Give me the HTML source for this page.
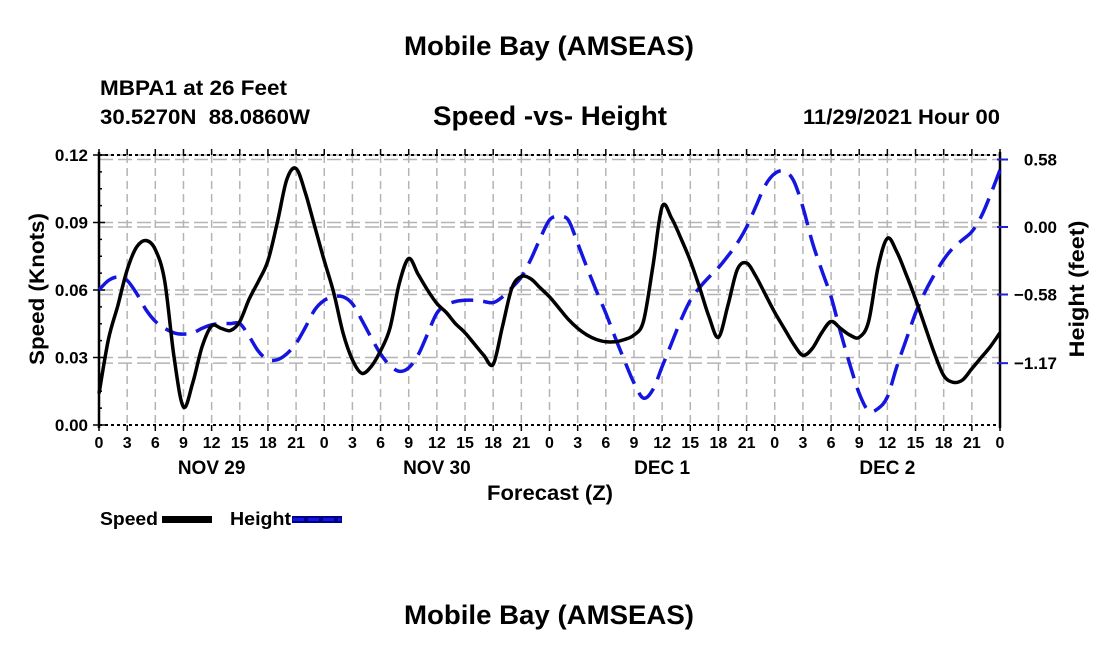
<!DOCTYPE html>
<html><head><meta charset="utf-8"><style>
body{margin:0;background:#fff;}
svg text{font-family:"Liberation Sans",Arial,sans-serif;font-weight:bold;fill:#000;}
</style></head><body>
<svg id="chart" width="1100" height="650" xmlns="http://www.w3.org/2000/svg">
<text x="549" y="55" font-size="27" text-anchor="middle" textLength="290" lengthAdjust="spacingAndGlyphs">Mobile Bay (AMSEAS)</text>
<text x="100" y="95" font-size="21" textLength="187" lengthAdjust="spacingAndGlyphs">MBPA1 at 26 Feet</text>
<text x="100" y="124" font-size="21" xml:space="preserve" textLength="210" lengthAdjust="spacingAndGlyphs">30.5270N  88.0860W</text>
<text x="550" y="125" font-size="27" text-anchor="middle" textLength="234" lengthAdjust="spacingAndGlyphs">Speed -vs- Height</text>
<text x="1000" y="124" font-size="21" text-anchor="end" textLength="197" lengthAdjust="spacingAndGlyphs">11/29/2021 Hour 00</text>
<g id="grid"></g>
<g id="axes"></g>
<g id="series"></g>
<text transform="translate(44,289) rotate(-90)" font-size="21" text-anchor="middle" textLength="152" lengthAdjust="spacingAndGlyphs">Speed (Knots)</text>
<text transform="translate(1084,289) rotate(-90)" font-size="21" text-anchor="middle" textLength="137" lengthAdjust="spacingAndGlyphs">Height (feet)</text>
<text x="550" y="500" font-size="21" text-anchor="middle" textLength="126" lengthAdjust="spacingAndGlyphs">Forecast (Z)</text>
<g>
<text x="100" y="525" font-size="18" textLength="58" lengthAdjust="spacingAndGlyphs">Speed</text>
<rect x="162" y="516" width="50" height="7" fill="#000"/>
<text x="230" y="525" font-size="18" textLength="61" lengthAdjust="spacingAndGlyphs">Height</text>
<rect x="292" y="516" width="50" height="7" fill="#00008b"/>
<line x1="293" y1="519.5" x2="341" y2="519.5" stroke="#1515e0" stroke-width="3" stroke-dasharray="11,4"/>
</g>
<text x="549" y="624" font-size="27" text-anchor="middle" textLength="290" lengthAdjust="spacingAndGlyphs">Mobile Bay (AMSEAS)</text>
</svg>
<script>
const hours = [];
for (let i = 0; i <= 96; i++) hours.push(i);
const speedValues = [0.014,0.038,0.053,0.069,0.079,0.082,0.078,0.064,0.030,0.008,0.019,0.035,0.044,0.043,0.042,0.046,0.056,0.064,0.073,0.090,0.109,0.114,0.103,0.088,0.073,0.059,0.041,0.029,0.023,0.026,0.033,0.043,0.063,0.074,0.067,0.060,0.054,0.050,0.045,0.041,0.036,0.031,0.027,0.044,0.061,0.066,0.065,0.061,0.057,0.052,0.047,0.043,0.040,0.038,0.037,0.037,0.038,0.040,0.046,0.070,0.097,0.092,0.083,0.073,0.061,0.048,0.039,0.053,0.069,0.072,0.066,0.058,0.050,0.043,0.036,0.031,0.034,0.041,0.046,0.043,0.040,0.039,0.046,0.070,0.083,0.077,0.067,0.056,0.044,0.032,0.022,0.019,0.020,0.025,0.030,0.035,0.041];
const heightValues = [-0.54,-0.46,-0.43,-0.46,-0.57,-0.71,-0.81,-0.87,-0.91,-0.92,-0.91,-0.87,-0.84,-0.83,-0.83,-0.83,-0.94,-1.07,-1.14,-1.14,-1.09,-1.00,-0.86,-0.71,-0.63,-0.60,-0.60,-0.66,-0.80,-0.95,-1.09,-1.19,-1.24,-1.21,-1.10,-0.92,-0.74,-0.67,-0.64,-0.63,-0.63,-0.64,-0.65,-0.60,-0.52,-0.43,-0.28,-0.10,0.06,0.09,0.06,-0.14,-0.35,-0.55,-0.74,-0.95,-1.15,-1.34,-1.47,-1.40,-1.20,-1.00,-0.80,-0.63,-0.52,-0.43,-0.35,-0.25,-0.14,0.00,0.18,0.36,0.46,0.48,0.40,0.17,-0.13,-0.37,-0.60,-0.90,-1.18,-1.43,-1.58,-1.56,-1.46,-1.20,-0.97,-0.74,-0.56,-0.41,-0.28,-0.18,-0.11,-0.04,0.09,0.28,0.49];
const speedTicks = [0.00,0.03,0.06,0.09,0.12];
const speedTickLabels = ["0.00","0.03","0.06","0.09","0.12"];
const heightTicks = [0.58,0.00,-0.58,-1.17];
const heightTickLabels = ["0.58","0.00","\u22120.58","\u22121.17"];
const dayLabels = ["NOV 29","NOV 30","DEC 1","DEC 2"];

const X0=99,X1=1000,YT=155,YB=425;
const xS = h => X0 + h*(X1-X0)/96;
const yS = v => YB - v*(YB-YT)/0.12;
const yH = v => 227 - v*(67.5/0.58);
const NS='http://www.w3.org/2000/svg';
function mk(parent, tag, attrs){const e=document.createElementNS(NS,tag);for(const k in attrs)e.setAttribute(k,attrs[k]);parent.appendChild(e);return e;}
const grid=document.getElementById('grid'),axes=document.getElementById('axes'),series=document.getElementById('series');

for(let h=3;h<96;h+=3){
  const l=mk(grid,'line',{x1:xS(h),x2:xS(h),y1:YT,y2:YB,stroke:'#b4b4b4','stroke-width':1.5,'stroke-dasharray':'8,5'});
  
  
}
speedTicks.forEach(v=>{ if(v===0) return;
  const l=mk(grid,'line',{x1:X0,x2:X1,y1:yS(v),y2:yS(v),stroke:'#b4b4b4','stroke-width':1.5,'stroke-dasharray':'14,5'});
  
  
});
heightTicks.forEach(v=>{
  const l=mk(grid,'line',{x1:X0,x2:X1,y1:yH(v),y2:yH(v),stroke:'#b4b4b4','stroke-width':1.5,'stroke-dasharray':'14,5'});
  
  
});
[[X0,YT,X1,YT],[X0,YB,X1,YB]].forEach(c=>{
  const l=mk(axes,'line',{x1:c[0],y1:c[1],x2:c[2],y2:c[3],stroke:'#000','stroke-width':2,'stroke-dasharray':'3,3'});
  
  
});
const la=mk(axes,'line',{x1:X0,y1:YT-3,x2:X0,y2:YB+3,stroke:'#000','stroke-width':2.5});


const ra=mk(axes,'line',{x1:X1,y1:YT-3,x2:X1,y2:YB+3,stroke:'#000','stroke-width':2.5});


for(let v=0;v<=0.1201;v+=0.0075){
  const big=Math.abs(v/0.03-Math.round(v/0.03))<1e-6;
  const t=mk(axes,'line',{x1:X0-(big?6:0),x2:X0+(big?6:3),y1:yS(v),y2:yS(v),stroke:'#000','stroke-width':1.5});
  
  
}
speedTicks.forEach((v,i)=>{
  const t=mk(axes,'text',{x:X0-11,y:yS(v)+6,'font-size':17,'text-anchor':'end'});
  t.textContent=speedTickLabels[i];
  
  
});
heightTicks.forEach((v,i)=>{
  const k=mk(axes,'line',{x1:X1-3,x2:X1+8,y1:yH(v),y2:yH(v),stroke:'#2020d0','stroke-width':2});
  
  
  const t=mk(axes,'text',{x:X1+57,y:yH(v)+6,'font-size':17,'text-anchor':'end'});
  t.textContent=heightTickLabels[i];
  
  
});
for(let h=0;h<=96;h+=3){
  const a=mk(axes,'line',{x1:xS(h),x2:xS(h),y1:YT-6,y2:YT,stroke:'#000','stroke-width':1.5});
  
  
  const b=mk(axes,'line',{x1:xS(h),x2:xS(h),y1:YB,y2:YB+6,stroke:'#000','stroke-width':1.5});
  
  
  const t=mk(axes,'text',{x:xS(h),y:448,'font-size':16,'text-anchor':'middle'});
  t.textContent=String(h%24);
  
  
}
dayLabels.forEach((d,i)=>{
  const t=mk(axes,'text',{x:xS(i*24+12),y:474,'font-size':19,'text-anchor':'middle'});
  t.textContent=d;
  
  
});
function smooth(pts){
  let d='M'+pts[0][0].toFixed(1)+','+pts[0][1].toFixed(1);
  for(let i=0;i<pts.length-1;i++){
    const p0=pts[Math.max(0,i-1)],p1=pts[i],p2=pts[i+1],p3=pts[Math.min(pts.length-1,i+2)];
    const c1=[p1[0]+(p2[0]-p0[0])/6,p1[1]+(p2[1]-p0[1])/6],c2=[p2[0]-(p3[0]-p1[0])/6,p2[1]-(p3[1]-p1[1])/6];
    d+='C'+c1[0].toFixed(1)+','+c1[1].toFixed(1)+' '+c2[0].toFixed(1)+','+c2[1].toFixed(1)+' '+p2[0].toFixed(1)+','+p2[1].toFixed(1);
  }
  return d;
}
const hp=mk(series,'path',{d:smooth(hours.map((h,i)=>[xS(h),yH(heightValues[i])])),fill:'none',stroke:'#1515e0','stroke-width':3.5,'stroke-dasharray':'22,10'});


const sp=mk(series,'path',{d:smooth(hours.map((h,i)=>[xS(h),yS(speedValues[i])])),fill:'none',stroke:'#000','stroke-width':3.5,'stroke-linejoin':'round'});


</script>
</body></html>
